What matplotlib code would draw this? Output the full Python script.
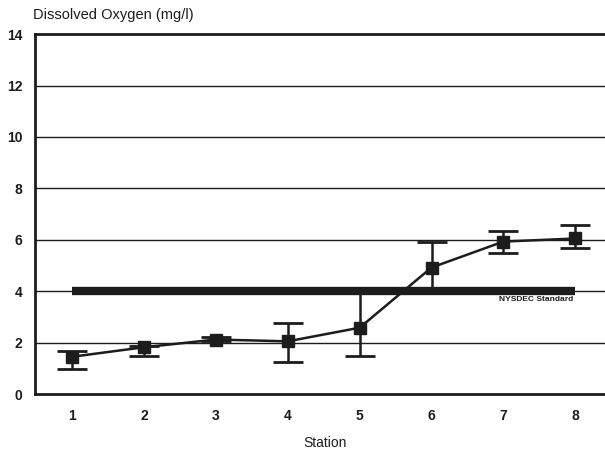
import matplotlib.pyplot as plt

plt.rcParams['font.family'] = ['Liberation Sans', 'DejaVu Sans']

# data
stations = [1, 2, 3, 4, 5, 6, 7, 8]
do_mean = [1.45, 1.82, 2.12, 2.05, 2.58, 4.92, 5.93, 6.05]
err_low = [0.48, 0.33, 0.06, 0.80, 1.10, 0.90, 0.45, 0.37]
err_high = [0.23, 0.06, 0.08, 0.70, 1.45, 1.00, 0.42, 0.52]
standard = 4.0
yticks = [0, 2, 4, 6, 8, 10, 12, 14]

ink = '#1c1c1c'

fig = plt.figure(figsize=(6.05, 4.55), dpi=100)
ax = fig.add_axes([0.058, 0.134, 0.96, 0.791])

# grid lines
for y in yticks[1:-1]:
    ax.axhline(y, color=ink, lw=1.0, zorder=1)

# NYSDEC standard
ax.plot([stations[0], stations[-1]], [standard, standard], color=ink, lw=6, solid_capstyle='butt', zorder=2)
ax.text(stations[-1] - 0.03, standard - 0.17, 'NYSDEC Standard', fontsize=6, fontweight='bold',
        color=ink, ha='right', va='top')

ax.errorbar(stations, do_mean, yerr=[err_low, err_high], color=ink, lw=1.8,
            marker='s', markersize=8, capsize=11, capthick=2, elinewidth=1.8, zorder=3)

ax.set_xlim(0.485, 8.565)
ax.set_ylim(0, 14)
ax.set_yticks(yticks)
ax.set_xticks(stations)
ax.tick_params(length=0, labelsize=10, colors=ink)
ax.tick_params(axis='x', pad=11)
ax.tick_params(axis='y', pad=9)
for lab in ax.get_xticklabels() + ax.get_yticklabels():
    lab.set_fontweight('bold')

for side in ['left', 'bottom', 'top']:
    ax.spines[side].set_linewidth(2)
    ax.spines[side].set_color(ink)
ax.spines['right'].set_visible(False)

ax.set_xlabel('Station', fontsize=10, color=ink, labelpad=9)
fig.text(0.055, 0.968, 'Dissolved Oxygen (mg/l)', fontsize=10.5, color=ink, ha='left', va='center')

fig.savefig('out.png', dpi=100)
